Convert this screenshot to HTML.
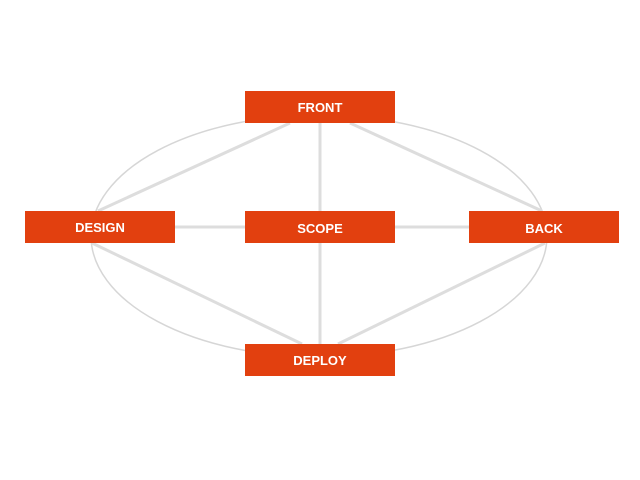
<!DOCTYPE html>
<html><head><style>
body{margin:0;background:#fff;}
svg{display:block}
text{font-family:"Liberation Sans",sans-serif;font-weight:bold;font-size:13px;fill:#fff;text-anchor:middle;}
</style></head><body>
<svg width="640" height="480" viewBox="0 0 640 480">
<ellipse cx="319" cy="236" rx="228" ry="121" fill="none" stroke="#d6d6d6" stroke-width="1.5"/>
<g stroke="#dddddd" stroke-width="3" fill="none">
<line x1="290" y1="123" x2="98" y2="211"/>
<line x1="350" y1="123" x2="542" y2="211"/>
<line x1="92" y1="243" x2="302" y2="344"/>
<line x1="545" y1="243" x2="338" y2="344"/>
<line x1="320" y1="123" x2="320" y2="344"/>
<line x1="175" y1="227" x2="245" y2="227"/>
<line x1="395" y1="227" x2="469" y2="227"/>
</g>
<g fill="#e2400f">
<rect x="245" y="91" width="150" height="32"/>
<rect x="25" y="211" width="150" height="32"/>
<rect x="245" y="211" width="150" height="32"/>
<rect x="469" y="211" width="150" height="32"/>
<rect x="245" y="344" width="150" height="32"/>
</g>
<text x="320" y="112">FRONT</text>
<text x="100" y="232">DESIGN</text>
<text x="320" y="233">SCOPE</text>
<text x="544" y="233">BACK</text>
<text x="320" y="365">DEPLOY</text>
</svg>
</body></html>
